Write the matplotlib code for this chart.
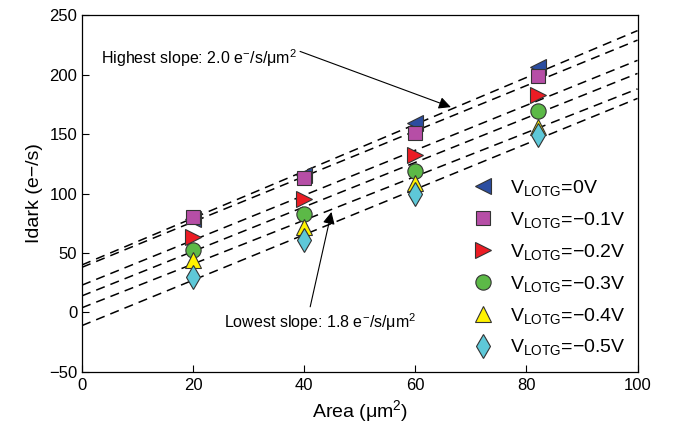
import numpy as np
import matplotlib
matplotlib.use("Agg")
import matplotlib.pyplot as plt

plt.rcParams['font.family'] = ['Liberation Sans', 'DejaVu Sans']
plt.rcParams['mathtext.fontset'] = 'custom'
plt.rcParams['mathtext.rm'] = 'Liberation Sans'
plt.rcParams['mathtext.it'] = 'Liberation Sans:italic'
plt.rcParams['mathtext.default'] = 'regular'

# Data
areas = [20, 40, 60, 82]
labels = ['0V', '\u22120.1V', '\u22120.2V', '\u22120.3V', '\u22120.4V', '\u22120.5V']
v0 = [78.5, 115.5, 159, 206.6]
v01 = [80.5, 112.8, 150.6, 198.7]
v02 = [63.7, 95, 132.4, 182.8]
v03 = [52.5, 82.8, 118.9, 169.6]
v04 = [44, 71.6, 108.6, 156]
v05 = [30, 61, 100, 149]
series = [v0, v01, v02, v03, v04, v05]
# fitted lines: value at area=0 and at area=100
fit_x = [0, 100]
fit_left = [40, 38, 23, 14, 4, -11]
fit_right = [237, 229, 212, 201, 188, 180]

markers = ['<', 's', '>', 'o', '^', 'd']
colors = ['#2b4da0', '#b64ea6', '#ec1c24', '#5cb947', '#fff200', '#5ec8d8']
sizes = [11, 10, 11, 11, 11, 12]

fig = plt.figure(figsize=(6.75, 4.33), dpi=100)
ax = fig.add_axes([0.1215, 0.141, 0.823, 0.824])

for l, r in zip(fit_left, fit_right):
    ax.plot(fit_x, [l, r], color='black', lw=1.1, dashes=(6, 4), zorder=2)

handles = []
for s, m, c, ms, lab in zip(series, markers, colors, sizes, labels):
    h, = ax.plot(areas, s, linestyle='none', marker=m, color=c, markersize=ms,
                 markeredgecolor='#333333', markeredgewidth=0.8, zorder=3,
                 label=r'V$_{LOTG}$=' + lab)
    handles.append(h)

ax.set_xlim(0, 100)
ax.set_ylim(-50, 250)
ax.set_xticks([0, 20, 40, 60, 80, 100])
ax.set_yticks([-50, 0, 50, 100, 150, 200, 250])
ax.tick_params(labelsize=12, direction='in', length=5, width=0.8)
ax.tick_params(axis='x', pad=4)
ax.set_xlabel(r'Area ($\mu$m$^2$)', fontsize=14)
ax.set_ylabel('Idark (e\u2212/s)', fontsize=14)
for sp in ax.spines.values():
    sp.set_linewidth(0.9)

leg = ax.legend(handles=handles, loc='upper left', bbox_to_anchor=(0.69, 0.565),
                frameon=False, fontsize=14, handlelength=1.0, handletextpad=0.9,
                labelspacing=0.61, borderaxespad=0)

ax.annotate(r'Highest slope: 2.0 e$^{-}$/s/$\mu$m$^2$', xy=(66.4, 172.7),
            xytext=(3.5, 214), fontsize=11.5, ha='left', va='center',
            arrowprops=dict(arrowstyle='-|>', color='black', lw=0.8,
                            mutation_scale=18, shrinkA=0, shrinkB=0,
                            relpos=(1.0, 0.85)))
ax.annotate(r'Lowest slope: 1.8 e$^{-}$/s/$\mu$m$^2$', xy=(44.9, 84.5),
            xytext=(25.5, -8), fontsize=11.5, ha='left', va='center',
            arrowprops=dict(arrowstyle='-|>', color='black', lw=0.8,
                            mutation_scale=18, shrinkA=0, shrinkB=0,
                            relpos=(0.45, 1.2)))

fig.savefig('out.png', dpi=100)
